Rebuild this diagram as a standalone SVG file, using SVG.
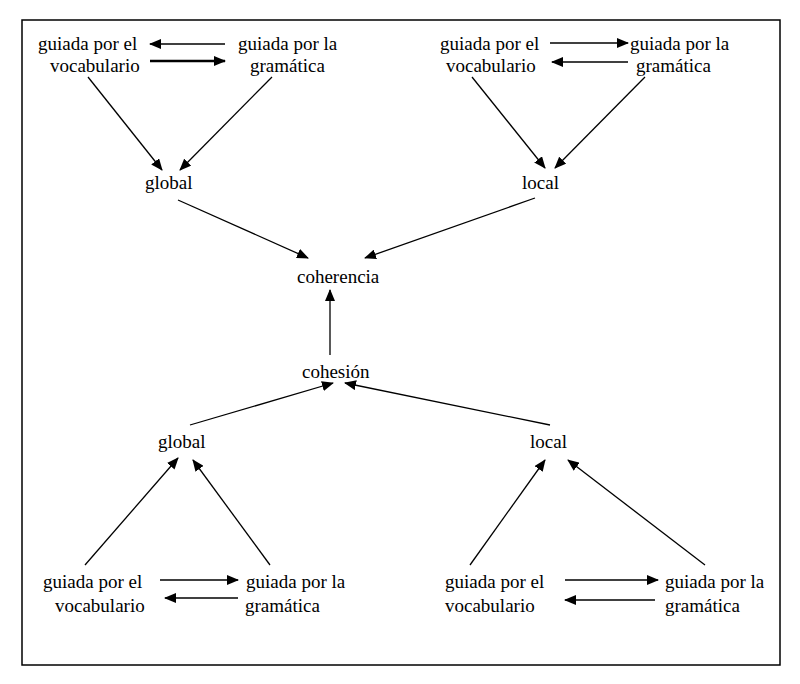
<svg xmlns="http://www.w3.org/2000/svg" width="800" height="684" viewBox="0 0 800 684">
<defs>
<marker id="a" viewBox="0 0 12 10" refX="11" refY="5" markerWidth="12" markerHeight="10" markerUnits="userSpaceOnUse" orient="auto"><path d="M0,0 L12,5 L0,10 Z" fill="#000"/></marker>
</defs>
<style>
text{font-family:'Liberation Serif','DejaVu Serif','Times New Roman',serif;font-size:19px;fill:#000}
.c line{stroke:#000;stroke-width:1.3;marker-end:url(#a)}
</style>
<rect width="800" height="684" fill="#fff"/>
<rect x="22" y="20" width="758" height="645" fill="none" stroke="#000" stroke-width="1.5"/>
<g id="tl-voc"><text x="38" y="50">guiada por el</text><text x="50" y="72">vocabulario</text></g>
<g id="tl-gram"><text x="238" y="50">guiada por la</text><text x="250" y="72">gramática</text></g>
<g id="tr-voc"><text x="440" y="50">guiada por el</text><text x="446" y="72">vocabulario</text></g>
<g id="tr-gram"><text x="630" y="50">guiada por la</text><text x="636" y="72">gramática</text></g>
<g id="g1"><text x="145" y="189">global</text></g>
<g id="l1"><text x="522" y="189">local</text></g>
<g id="coh"><text x="297" y="283">coherencia</text></g>
<g id="cohes"><text x="302" y="378">cohesión</text></g>
<g id="g2"><text x="158" y="448">global</text></g>
<g id="l2"><text x="530" y="448">local</text></g>
<g id="bl-voc"><text x="43" y="588">guiada por el</text><text x="55" y="612">vocabulario</text></g>
<g id="bl-gram"><text x="246" y="588">guiada por la</text><text x="245" y="612">gramática</text></g>
<g id="br-voc"><text x="445" y="588">guiada por el</text><text x="445" y="612">vocabulario</text></g>
<g id="br-gram"><text x="665" y="588">guiada por la</text><text x="665" y="612">gramática</text></g>
<g class="c" id="connectors">
<line x1="225" y1="44" x2="150" y2="44"/>
<line x1="150" y1="61" x2="225" y2="61" style="stroke-width:2.5"/>
<line x1="550" y1="43" x2="628" y2="43"/>
<line x1="628" y1="62" x2="552" y2="62"/>
<line x1="88" y1="77" x2="162" y2="170"/>
<line x1="272" y1="77" x2="180" y2="170"/>
<line x1="472" y1="77" x2="545" y2="168"/>
<line x1="645" y1="77" x2="555" y2="168"/>
<line x1="178" y1="200" x2="308" y2="258"/>
<line x1="535" y1="198" x2="365" y2="258"/>
<line x1="330" y1="355" x2="330" y2="290"/>
<line x1="190" y1="425" x2="333" y2="383"/>
<line x1="550" y1="425" x2="345" y2="383"/>
<line x1="85" y1="565" x2="178" y2="458"/>
<line x1="270" y1="565" x2="193" y2="460"/>
<line x1="470" y1="565" x2="545" y2="460"/>
<line x1="705" y1="565" x2="568" y2="460"/>
<line x1="160" y1="580" x2="238" y2="580"/>
<line x1="238" y1="598" x2="165" y2="598"/>
<line x1="565" y1="580" x2="658" y2="580"/>
<line x1="655" y1="600" x2="565" y2="600"/>
</g>
</svg>
